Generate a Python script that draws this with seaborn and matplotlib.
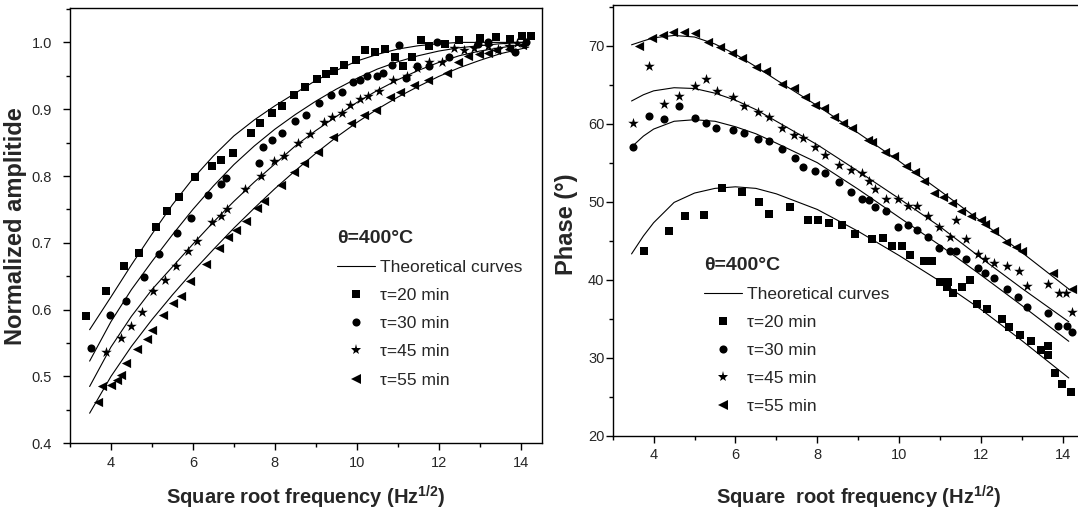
import matplotlib
matplotlib.use('Agg')
import matplotlib.pyplot as plt
import seaborn as sns
from matplotlib.lines import Line2D
from matplotlib.ticker import MultipleLocator, FormatStrFormatter

# Normalized amplitude (left panel)
amp20_x = [3.39, 3.87, 4.31, 4.69, 5.10, 5.37, 5.66, 6.05, 6.46, 6.69, 6.97, 7.41, 7.64, 7.94, 8.18, 8.46, 8.73,
           9.03, 9.24, 9.44, 9.69, 9.97, 10.19, 10.44, 10.69, 10.93, 11.13, 11.35, 11.58, 11.77, 12.16, 12.49,
           13.02, 13.40, 13.75, 14.04, 14.25]
amp20_y = [0.590, 0.628, 0.665, 0.685, 0.724, 0.748, 0.768, 0.799, 0.815, 0.824, 0.835, 0.864, 0.879, 0.894,
           0.905, 0.922, 0.933, 0.945, 0.953, 0.957, 0.966, 0.974, 0.989, 0.986, 0.990, 0.978, 0.964, 0.978,
           1.004, 0.994, 0.998, 1.003, 1.006, 1.008, 1.005, 1.010, 1.009]
amp30_x = [3.51, 3.98, 4.36, 4.81, 5.18, 5.61, 5.95, 6.38, 6.69, 6.82, 7.62, 7.70, 7.93, 8.18, 8.50, 8.77, 9.09,
           9.38, 9.63, 9.92, 10.08, 10.26, 10.49, 10.63, 10.86, 11.03, 11.21, 11.47, 11.77, 11.95, 12.24, 12.95,
           13.20, 13.87, 14.13]
amp30_y = [0.543, 0.592, 0.613, 0.649, 0.683, 0.714, 0.737, 0.772, 0.788, 0.797, 0.819, 0.844, 0.854, 0.864,
           0.883, 0.891, 0.909, 0.921, 0.926, 0.941, 0.944, 0.949, 0.950, 0.954, 0.966, 0.996, 0.946, 0.965,
           0.964, 1.001, 0.978, 0.998, 1.001, 0.986, 1.000]
amp45_x = [3.87, 4.25, 4.50, 4.77, 5.03, 5.31, 5.60, 5.89, 6.09, 6.46, 6.68, 6.83, 7.28, 7.67, 7.97, 8.23, 8.57,
           8.85, 9.19, 9.40, 9.64, 9.84, 10.08, 10.28, 10.55, 10.89, 11.22, 11.47, 11.76, 12.08, 12.37, 12.62,
           12.87, 13.20, 13.46, 13.71, 13.92]
amp45_y = [0.536, 0.557, 0.575, 0.597, 0.628, 0.645, 0.666, 0.688, 0.703, 0.731, 0.740, 0.750, 0.781, 0.800,
           0.822, 0.830, 0.849, 0.863, 0.881, 0.889, 0.895, 0.906, 0.916, 0.920, 0.928, 0.944, 0.950, 0.961,
           0.970, 0.971, 0.991, 0.989, 0.991, 0.994, 0.990, 0.994, 0.999]
amp55_x = [3.68, 3.79, 4.00, 4.14, 4.25, 4.38, 4.64, 4.87, 5.01, 5.27, 5.51, 5.71, 5.94, 6.31, 6.65, 6.85, 7.06,
           7.30, 7.56, 7.73, 8.15, 8.48, 8.72, 9.06, 9.43, 9.86, 10.18, 10.47, 10.82, 11.05, 11.39, 11.74, 12.20,
           12.47, 12.72, 12.99, 13.20, 13.41, 13.71, 14.04]
amp55_y = [0.462, 0.486, 0.487, 0.495, 0.502, 0.520, 0.541, 0.556, 0.570, 0.592, 0.610, 0.620, 0.643, 0.669,
           0.692, 0.708, 0.719, 0.733, 0.752, 0.762, 0.787, 0.806, 0.819, 0.836, 0.859, 0.880, 0.891, 0.899,
           0.919, 0.926, 0.936, 0.944, 0.954, 0.971, 0.979, 0.983, 0.984, 0.989, 0.990, 0.996]

# theoretical curves, amplitude
fit_x = [3.48, 4.0, 4.5, 5.0, 5.5, 6.0, 6.5, 7.0, 7.5, 8.0, 8.5, 9.0, 9.5, 10.0, 10.5, 11.0, 11.5, 12.0, 12.5,
         13.0, 13.5, 14.2]
amp_fit20 = [0.570, 0.619, 0.667, 0.713, 0.757, 0.796, 0.830, 0.860, 0.884, 0.905, 0.924, 0.943, 0.958, 0.972,
             0.982, 0.990, 0.995, 0.998, 1.000, 1.000, 1.000, 1.000]
amp_fit30 = [0.523, 0.582, 0.630, 0.672, 0.712, 0.750, 0.785, 0.817, 0.845, 0.870, 0.892, 0.912, 0.930, 0.946,
             0.960, 0.971, 0.980, 0.987, 0.992, 0.995, 0.998, 1.000]
amp_fit45 = [0.485, 0.544, 0.590, 0.630, 0.664, 0.698, 0.731, 0.762, 0.791, 0.818, 0.845, 0.868, 0.889, 0.910,
             0.928, 0.944, 0.958, 0.970, 0.980, 0.987, 0.992, 0.998]
amp_fit55 = [0.445, 0.500, 0.545, 0.585, 0.622, 0.657, 0.690, 0.722, 0.752, 0.781, 0.808, 0.834, 0.858, 0.880,
             0.900, 0.918, 0.934, 0.949, 0.962, 0.973, 0.983, 0.993]

# Phase (right panel)
ph20_x = [3.77, 4.38, 4.77, 5.24, 5.66, 6.16, 6.57, 6.81, 7.33, 7.78, 8.01, 8.28, 8.60, 8.92, 9.33, 9.60, 9.82,
          10.07, 10.28, 10.60, 10.81, 11.01, 11.19, 11.18, 11.33, 11.54, 11.74, 11.91, 12.15, 12.52, 12.70, 12.96,
          13.23, 13.47, 13.63, 13.63, 13.81, 13.98, 14.20]
ph20_y = [43.7, 46.2, 48.2, 48.3, 51.7, 51.2, 50.0, 48.4, 49.3, 47.7, 47.7, 47.3, 47.0, 45.8, 45.2, 45.3, 44.3,
          44.3, 43.1, 42.4, 42.4, 39.7, 39.7, 39.1, 38.3, 39.1, 39.9, 36.9, 36.2, 34.9, 33.9, 32.9, 32.1, 31.0,
          31.5, 30.4, 28.0, 26.6, 25.6]
ph30_x = [3.50, 3.88, 4.26, 4.63, 5.01, 5.28, 5.52, 5.95, 6.22, 6.56, 6.83, 7.15, 7.46, 7.66, 7.95, 8.19, 8.52,
          8.82, 9.09, 9.26, 9.40, 9.68, 9.98, 10.23, 10.45, 10.72, 10.98, 11.25, 11.39, 11.64, 11.92, 12.11,
          12.33, 12.64, 12.92, 13.12, 13.63, 13.89, 14.10, 14.22]
ph30_y = [57.0, 61.0, 60.6, 62.3, 60.7, 60.1, 59.5, 59.2, 58.8, 58.0, 57.8, 56.8, 55.6, 54.4, 53.9, 53.7, 52.5,
          51.2, 50.4, 50.2, 49.3, 48.8, 46.7, 47.0, 46.4, 45.5, 44.0, 43.7, 43.7, 42.6, 41.5, 40.8, 40.2, 38.8,
          37.8, 36.5, 35.7, 34.0, 34.0, 33.3]
ph45_x = [3.50, 3.88, 4.26, 4.63, 5.00, 5.28, 5.55, 5.95, 6.22, 6.56, 6.83, 7.15, 7.44, 7.64, 7.95, 8.19, 8.54,
          8.82, 9.09, 9.27, 9.40, 9.68, 9.97, 10.21, 10.45, 10.72, 10.98, 11.25, 11.39, 11.64, 11.92, 12.11,
          12.33, 12.64, 12.94, 13.13, 13.63, 13.92, 14.08, 14.22]
ph45_y = [60.1, 67.4, 62.5, 63.5, 64.8, 65.7, 64.2, 63.4, 62.2, 61.5, 60.9, 59.5, 58.6, 58.2, 57.0, 56.0, 54.7,
          54.1, 53.7, 52.7, 51.6, 50.4, 50.3, 49.5, 49.5, 48.1, 46.7, 45.5, 47.6, 45.2, 43.3, 42.7, 42.1, 41.8,
          41.1, 39.2, 39.4, 38.3, 38.3, 35.8]
ph55_x = [3.65, 3.96, 4.24, 4.48, 4.75, 5.00, 5.32, 5.63, 5.91, 6.16, 6.50, 6.75, 7.13, 7.42, 7.70, 7.95, 8.17,
          8.40, 8.62, 8.85, 9.23, 9.35, 9.66, 9.88, 10.17, 10.40, 10.62, 10.86, 11.07, 11.29, 11.51, 11.76,
          12.00, 12.11, 12.33, 12.61, 12.86, 13.00, 13.76, 14.22]
ph55_y = [70.0, 71.0, 71.4, 71.7, 71.8, 71.6, 70.4, 69.8, 69.0, 68.4, 67.2, 66.7, 65.1, 64.6, 63.4, 62.4, 62.0,
          60.9, 60.1, 59.5, 57.9, 57.6, 56.3, 55.9, 54.6, 53.8, 52.7, 51.1, 50.6, 49.8, 48.8, 48.2, 47.6, 47.1,
          46.2, 44.8, 44.2, 43.7, 40.8, 38.8]

# theoretical curves, phase
ph_fit_x = [3.46, 3.75, 4.0, 4.5, 5.0, 5.5, 6.0, 6.5, 7.0, 8.0, 9.0, 10.0, 11.0, 12.0, 13.0, 14.15]
ph_fit20 = [43.3, 45.6, 47.3, 49.9, 51.1, 51.7, 51.9, 51.7, 51.0, 49.0, 46.2, 43.1, 39.8, 36.2, 32.2, 27.4]
ph_fit30 = [57.0, 58.4, 59.3, 60.3, 60.5, 60.3, 59.6, 58.7, 57.5, 55.0, 51.6, 48.0, 44.4, 40.6, 36.7, 32.1]
ph_fit45 = [62.9, 63.7, 64.2, 64.6, 64.5, 63.9, 63.0, 61.8, 60.3, 57.3, 53.9, 50.4, 46.8, 42.8, 38.9, 34.6]
ph_fit55 = [70.1, 70.6, 71.0, 71.3, 71.1, 70.2, 68.9, 67.3, 65.6, 62.3, 58.8, 55.2, 51.4, 47.5, 43.5, 38.8]

labels = ['τ=20 min', 'τ=30 min', 'τ=45 min', 'τ=55 min']
markers = ['s', 'o', '*', '<']
sizes = [28, 34, 64, 44]

sns.set_style('ticks')
fonts = ['Liberation Sans', 'DejaVu Sans']
plt.rcParams['font.family'] = fonts
plt.rcParams['mathtext.fontset'] = 'custom'
plt.rcParams['mathtext.bf'] = 'Liberation Sans:bold'
plt.rcParams['mathtext.rm'] = 'Liberation Sans'
plt.rcParams['axes.linewidth'] = 1.0


def draw_panel(ax, xs, ys, fx, fits, xlim, ylim, ymaj, ymin, yfmt, ylabel, xlabel, ypad, leg_anchor):
    for cy in fits:
        sns.lineplot(x=fx, y=cy, color='black', lw=0.8, sort=False, estimator=None, ax=ax)
    for x, y, m, s in zip(xs, ys, markers, sizes):
        sns.scatterplot(x=x, y=y, marker=m, s=s, color='black', edgecolor='black', linewidth=0, ax=ax)
    ax.set_xlim(*xlim)
    ax.set_ylim(*ylim)
    ax.xaxis.set_major_locator(MultipleLocator(2))
    ax.xaxis.set_minor_locator(MultipleLocator(1))
    ax.yaxis.set_major_locator(MultipleLocator(ymaj))
    ax.yaxis.set_minor_locator(MultipleLocator(ymin))
    ax.yaxis.set_major_formatter(FormatStrFormatter(yfmt))
    ax.tick_params(which='major', direction='out', length=5, width=1, labelsize=10.5, color='black')
    ax.tick_params(which='minor', direction='out', length=3, width=1, color='black')
    ax.tick_params(axis='y', pad=ypad)
    ax.tick_params(axis='x', pad=4)
    for sp in ax.spines.values():
        sp.set_visible(True)
        sp.set_color('black')
    ax.set_xlabel(xlabel, fontsize=14.5, fontweight='bold')
    ax.set_ylabel(ylabel, fontsize=17, fontweight='bold')

    handles = [Line2D([], [], color='black', lw=0.8, label='Theoretical curves')]
    for lab, m, s in zip(labels, markers, sizes):
        handles.append(Line2D([], [], marker=m, ls='none', color='black', markeredgewidth=0,
                              markersize=s ** 0.5, label=lab))
    ax.legend(handles=handles, title='θ=400°C', loc='upper left', bbox_to_anchor=leg_anchor,
              frameon=False, borderpad=0, borderaxespad=0, handlelength=2.2, handletextpad=0.3,
              labelspacing=0.75, alignment='left', fontsize=12.5,
              title_fontproperties={'weight': 'bold', 'size': 14, 'family': fonts})


fig = plt.figure(figsize=(10.78, 5.23), dpi=100)
ax1 = fig.add_axes([0.0649, 0.1524, 0.4378, 0.8317])
ax2 = fig.add_axes([0.5684, 0.1669, 0.4553, 0.8235])

draw_panel(ax1, [amp20_x, amp30_x, amp45_x, amp55_x], [amp20_y, amp30_y, amp45_y, amp55_y],
           fit_x, [amp_fit20, amp_fit30, amp_fit45, amp_fit55],
           (3, 14.52), (0.4, 1.051), 0.1, 0.05, '%.1f', 'Normalized amplitide',
           r'Square root frequency (Hz$^{\mathbf{1/2}}$)', 8, (0.566, 0.491))
ax1.yaxis.set_label_coords(-0.091, 0.5)
ax1.xaxis.set_label_coords(0.5, -0.094)

draw_panel(ax2, [ph20_x, ph30_x, ph45_x, ph55_x], [ph20_y, ph30_y, ph45_y, ph55_y],
           ph_fit_x, [ph_fit20, ph_fit30, ph_fit45, ph_fit55],
           (3, 15), (20, 75.2), 10, 5, '%d', 'Phase (°)',
           r'Square  root frequency (Hz$^{\mathbf{1/2}}$)', 1, (0.186, 0.416))
ax2.yaxis.set_label_coords(-0.071, 0.49)
ax2.xaxis.set_label_coords(0.5, -0.112)

fig.savefig('out.png', dpi=100)
